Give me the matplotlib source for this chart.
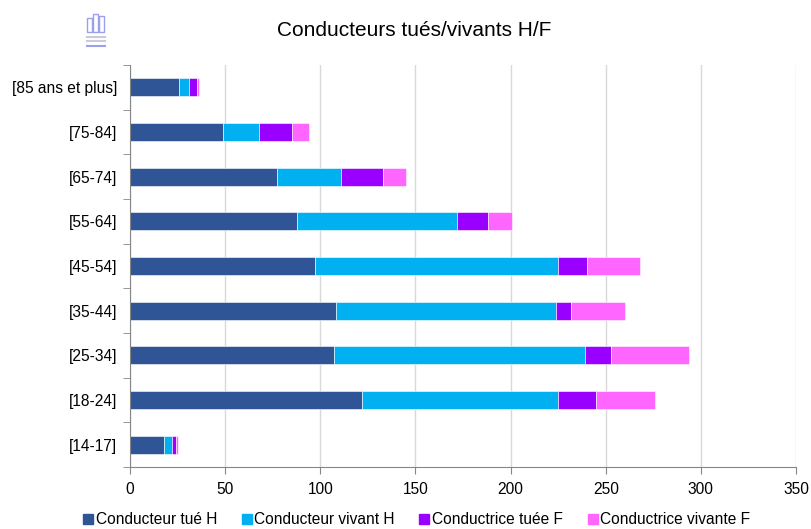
import matplotlib.pyplot as plt
from matplotlib.patches import Rectangle
from matplotlib.lines import Line2D

plt.rcParams['font.family'] = ['Liberation Sans', 'DejaVu Sans']

# Data (bottom to top)
categories = ['[14-17]', '[18-24]', '[25-34]', '[35-44]', '[45-54]',
              '[55-64]', '[65-74]', '[75-84]', '[85 ans et plus]']
tue_h = [18, 122, 107, 108, 97, 88, 77, 49, 26]
vivant_h = [4, 103, 132, 116, 128, 84, 34, 19, 5]
tuee_f = [2, 20, 14, 8, 15, 16, 22, 17, 4]
vivante_f = [1, 31, 41, 28, 28, 13, 12, 9, 1]

series = [
    ('Conducteur tué H', tue_h, '#2F5597'),
    ('Conducteur vivant H', vivant_h, '#00B0F0'),
    ('Conductrice tuée F', tuee_f, '#9900FF'),
    ('Conductrice vivante F', vivante_f, '#FF66FF'),
]

fig = plt.figure(figsize=(8.11, 5.29), dpi=100)
ax = fig.add_axes([130 / 811, 1 - 467 / 529, 666 / 811, 402 / 529])

y = list(range(len(categories)))
left = [0] * len(categories)
handles = []
for name, vals, col in series:
    ax.barh(y, vals, left=left, height=0.4, color=col, edgecolor='white', linewidth=0.4)
    left = [a + b for a, b in zip(left, vals)]
    handles.append(Line2D([], [], marker='s', linestyle='none', color=col,
                          markersize=7, label=name))

ax.set_xlim(0, 350)
ax.set_ylim(-0.5, len(categories) - 0.5)
ax.set_xticks(range(0, 351, 50))
ax.set_yticks(y)
ax.set_yticklabels(categories)
ax.set_yticks([i - 0.5 for i in range(len(categories) + 1)], minor=True)
ax.tick_params(axis='y', which='major', length=0, pad=9, labelsize=11.2)
ax.tick_params(axis='y', which='minor', length=5, color='#868686', direction='out')
ax.tick_params(axis='x', length=5, color='#868686', direction='out', pad=6, labelsize=11.2)
ax.grid(axis='x', color='#D9D9D9', linewidth=1)
ax.set_axisbelow(True)
for s in ['top', 'right']:
    ax.spines[s].set_visible(False)
for s in ['left', 'bottom']:
    ax.spines[s].set_color('#868686')

fig.text(414 / 811, 1 - 30 / 529, 'Conducteurs tués/vivants H/F', ha='center', va='center', fontsize=15)

# small logo in the top-left corner
logo = fig.add_axes([84 / 811, 1 - 48 / 529, 24 / 811, 36 / 529])
logo.set_xlim(0, 24)
logo.set_ylim(0, 36)
logo.axis('off')
for x0, h in [(3, 18), (9, 22), (15, 20)]:
    logo.add_patch(Rectangle((x0, 16), 5, h - 4, fill=False, edgecolor='#9AA0EC', linewidth=1.0))
logo.plot([3, 21], [11, 11], color='#C8CADF', linewidth=1.5)
logo.plot([3, 21], [7, 7], color='#C8CADF', linewidth=1.5)
logo.plot([3, 21], [2, 2], color='#9AA0EC', linewidth=1.5)

fig.legend(handles=handles, loc='center', bbox_to_anchor=(416 / 811, 1 - 520 / 529), ncol=4,
           frameon=False, fontsize=11.2, handletextpad=0.1, columnspacing=1.5,
           handlelength=0.8)

fig.savefig('out.png', dpi=100)
